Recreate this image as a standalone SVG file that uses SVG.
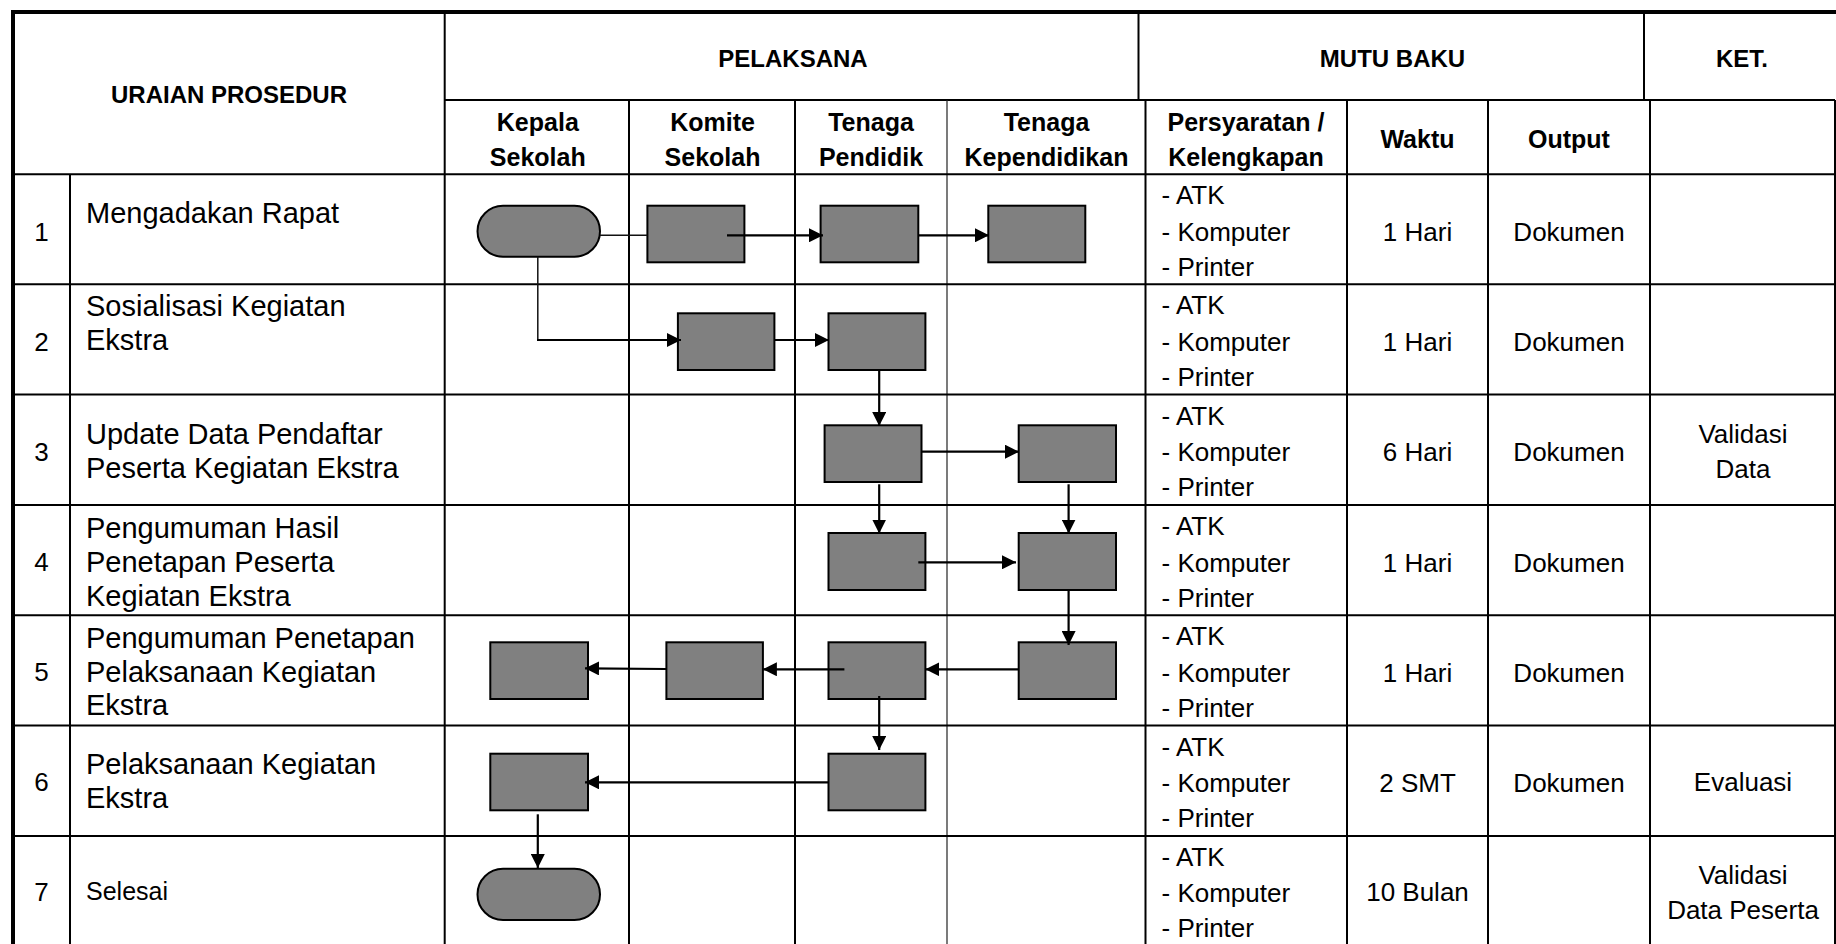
<svg xmlns="http://www.w3.org/2000/svg" width="1836" height="944" viewBox="0 0 1836 944">
<style>
.ln{stroke:#000;stroke-width:2;fill:none}
.thk{stroke:#000;stroke-width:4;fill:none}
.thin{stroke:#222;stroke-width:1.2;fill:none}
.hd{font-family:"Liberation Sans",Arial,sans-serif;font-weight:bold;font-size:25px;fill:#000;text-anchor:middle}
.hd0{font-family:"Liberation Sans",Arial,sans-serif;font-weight:bold;font-size:24px;fill:#000;text-anchor:middle}
.tx{font-family:"Liberation Sans",Arial,sans-serif;font-size:26px;fill:#000}
.c{text-anchor:middle}
.ur{font-family:"Liberation Sans",Arial,sans-serif;font-size:29px;fill:#000}
.box{fill:#808080;stroke:#000;stroke-width:2}
.ar{stroke:#000;stroke-width:2.2;fill:none;marker-end:url(#ah)}
.cn{stroke:#111;stroke-width:1.5;fill:none}
</style>
<defs>
<marker id="ah" markerUnits="userSpaceOnUse" markerWidth="15" markerHeight="14" refX="14" refY="7" orient="auto">
<path d="M0,0 L14,7 L0,14 z" fill="#000"/>
</marker>
</defs>
<rect width="1836" height="944" fill="#fff"/>
<g id="table">
<line class="thk" x1="11" y1="12" x2="1836" y2="12"/>
<line class="thk" x1="13" y1="10" x2="13" y2="946"/>
<line class="ln" x1="444.7" y1="12" x2="444.7" y2="946"/>
<line class="ln" x1="444.7" y1="100" x2="1835" y2="100"/>
<line class="ln" x1="1138.5" y1="12" x2="1138.5" y2="100"/>
<line class="ln" x1="1644" y1="12" x2="1644" y2="100"/>
<line class="ln" x1="70" y1="174.3" x2="70" y2="946"/>
<line class="ln" x1="629" y1="100" x2="629" y2="946"/>
<line class="ln" x1="795" y1="100" x2="795" y2="946"/>
<line class="thin" x1="947" y1="100" x2="947" y2="946"/>
<line class="ln" x1="1145.5" y1="100" x2="1145.5" y2="946"/>
<line class="ln" x1="1347" y1="100" x2="1347" y2="946"/>
<line class="ln" x1="1488" y1="100" x2="1488" y2="946"/>
<line class="ln" x1="1650" y1="100" x2="1650" y2="946"/>
<line class="ln" x1="1835" y1="100" x2="1835" y2="946"/>
<line class="ln" x1="13" y1="174.3" x2="1835" y2="174.3"/>
<line class="ln" x1="13" y1="284.3" x2="1835" y2="284.3"/>
<line class="ln" x1="13" y1="394.6" x2="1835" y2="394.6"/>
<line class="ln" x1="13" y1="505" x2="1835" y2="505"/>
<line class="ln" x1="13" y1="615.3" x2="1835" y2="615.3"/>
<line class="ln" x1="13" y1="725.6" x2="1835" y2="725.6"/>
<line class="ln" x1="13" y1="835.9" x2="1835" y2="835.9"/>
</g>
<g id="headers">
<text class="hd0" x="229" y="103.3">URAIAN PROSEDUR</text>
<text class="hd0" x="793" y="66.7">PELAKSANA</text>
<text class="hd0" x="1392.5" y="66.7">MUTU BAKU</text>
<text class="hd0" x="1742" y="66.7">KET.</text>
<text class="hd" x="537.8" y="131">Kepala</text>
<text class="hd" x="537.8" y="165.5">Sekolah</text>
<text class="hd" x="712.5" y="131">Komite</text>
<text class="hd" x="712.5" y="165.5">Sekolah</text>
<text class="hd" x="871" y="131">Tenaga</text>
<text class="hd" x="871" y="165.5">Pendidik</text>
<text class="hd" x="1046.5" y="131">Tenaga</text>
<text class="hd" x="1046.5" y="165.5">Kependidikan</text>
<text class="hd" x="1246" y="131">Persyaratan /</text>
<text class="hd" x="1246" y="165.5">Kelengkapan</text>
<text class="hd" x="1417.5" y="148.3">Waktu</text>
<text class="hd" x="1569" y="148.3">Output</text>
</g>
<g id="numbers" class="tx c">
<text x="41.5" y="240.5">1</text>
<text x="41.5" y="350.7">2</text>
<text x="41.5" y="460.8">3</text>
<text x="41.5" y="571">4</text>
<text x="41.5" y="681">5</text>
<text x="41.5" y="791">6</text>
<text x="41.5" y="901">7</text>
</g>
<g id="uraian" class="ur">
<text x="86" y="222.7">Mengadakan Rapat</text>
<text x="86" y="315.7">Sosialisasi Kegiatan</text>
<text x="86" y="350">Ekstra</text>
<text x="86" y="444">Update Data Pendaftar</text>
<text x="86" y="478.3">Peserta Kegiatan Ekstra</text>
<text x="86" y="537.7">Pengumuman Hasil</text>
<text x="86" y="571.7">Penetapan Peserta</text>
<text x="86" y="605.5">Kegiatan Ekstra</text>
<text x="86" y="647.7">Pengumuman Penetapan</text>
<text x="86" y="681.7">Pelaksanaan Kegiatan</text>
<text x="86" y="715">Ekstra</text>
<text x="86" y="774.3">Pelaksanaan Kegiatan</text>
<text x="86" y="808">Ekstra</text>
<text x="86" y="900" style="font-size:25px">Selesai</text>
</g>
<g id="persyaratan" class="tx">
<text x="1161.5" y="204.3">- ATK</text><text x="1161.5" y="240.8">- Komputer</text><text x="1161.5" y="275.8">- Printer</text>
<text x="1161.5" y="314.3">- ATK</text><text x="1161.5" y="350.8">- Komputer</text><text x="1161.5" y="385.8">- Printer</text>
<text x="1161.5" y="424.6">- ATK</text><text x="1161.5" y="461.1">- Komputer</text><text x="1161.5" y="496.1">- Printer</text>
<text x="1161.5" y="535">- ATK</text><text x="1161.5" y="571.5">- Komputer</text><text x="1161.5" y="606.5">- Printer</text>
<text x="1161.5" y="645.3">- ATK</text><text x="1161.5" y="681.8">- Komputer</text><text x="1161.5" y="716.8">- Printer</text>
<text x="1161.5" y="755.6">- ATK</text><text x="1161.5" y="792.1">- Komputer</text><text x="1161.5" y="827.1">- Printer</text>
<text x="1161.5" y="865.9">- ATK</text><text x="1161.5" y="902.4">- Komputer</text><text x="1161.5" y="937.4">- Printer</text>
</g>
<g id="waktu" class="tx c">
<text x="1417.5" y="240.8">1 Hari</text>
<text x="1417.5" y="350.8">1 Hari</text>
<text x="1417.5" y="461.1">6 Hari</text>
<text x="1417.5" y="571.5">1 Hari</text>
<text x="1417.5" y="681.8">1 Hari</text>
<text x="1417.5" y="792.1">2 SMT</text>
<text x="1417.5" y="901">10 Bulan</text>
</g>
<g id="output" class="tx c">
<text x="1569" y="240.8">Dokumen</text>
<text x="1569" y="350.8">Dokumen</text>
<text x="1569" y="461.1">Dokumen</text>
<text x="1569" y="571.5">Dokumen</text>
<text x="1569" y="681.8">Dokumen</text>
<text x="1569" y="792.1">Dokumen</text>
</g>
<g id="ket" class="tx c">
<text x="1743" y="443.3">Validasi</text>
<text x="1743" y="478.3">Data</text>
<text x="1743" y="791">Evaluasi</text>
<text x="1743" y="884">Validasi</text>
<text x="1743" y="919">Data Peserta</text>
</g>
<g id="start"><rect class="box" x="477.5" y="205.7" width="122.5" height="51" rx="25.5" ry="25.5"/></g>
<g id="n1-komite"><rect class="box" x="647.4" y="205.7" width="97" height="56.6"/></g>
<g id="n1-tp"><rect class="box" x="820.6" y="205.7" width="97.7" height="56.6"/></g>
<g id="n1-tk"><rect class="box" x="988.3" y="205.7" width="97" height="56.6"/></g>
<g id="n2-komite"><rect class="box" x="677.9" y="313.3" width="96.5" height="56.7"/></g>
<g id="n2-tp"><rect class="box" x="828.5" y="313.3" width="96.9" height="56.7"/></g>
<g id="n3-tp"><rect class="box" x="824.6" y="425.3" width="96.9" height="56.7"/></g>
<g id="n3-tk"><rect class="box" x="1018.7" y="425.3" width="97.3" height="56.7"/></g>
<g id="n4-tp"><rect class="box" x="828.5" y="533" width="96.9" height="57"/></g>
<g id="n4-tk"><rect class="box" x="1018.7" y="533" width="97.3" height="57"/></g>
<g id="n5-kepala"><rect class="box" x="490.3" y="642.3" width="97.7" height="56.7"/></g>
<g id="n5-komite"><rect class="box" x="666.4" y="642.3" width="96.5" height="56.7"/></g>
<g id="n5-tp"><rect class="box" x="828.5" y="642.3" width="96.9" height="56.7"/></g>
<g id="n5-tk"><rect class="box" x="1018.7" y="642.3" width="97.3" height="56.7"/></g>
<g id="n6-kepala"><rect class="box" x="490.3" y="753.7" width="97.7" height="56.6"/></g>
<g id="n6-tp"><rect class="box" x="828.5" y="753.7" width="96.9" height="56.6"/></g>
<g id="end"><rect class="box" x="477.5" y="868.7" width="122.5" height="51.3" rx="25.5" ry="25.5"/></g>
<g id="connectors">
<line class="cn" x1="600" y1="235.3" x2="647.4" y2="235.3"/>
<line class="ar" x1="727" y1="235.3" x2="823" y2="235.3"/>
<line class="ar" x1="918.3" y1="235.3" x2="989" y2="235.3"/>
<line class="cn" x1="537.8" y1="256.7" x2="537.8" y2="340"/>
<line class="ar" x1="537" y1="340" x2="681" y2="340"/>
<line class="ar" x1="774.4" y1="340" x2="829" y2="340"/>
<line class="ar" x1="879.2" y1="370" x2="879.2" y2="426"/>
<line class="ar" x1="921.5" y1="451.7" x2="1019" y2="451.7"/>
<line class="ar" x1="879.2" y1="484.3" x2="879.2" y2="533.5"/>
<line class="ar" x1="1068.6" y1="484.3" x2="1068.6" y2="533.5"/>
<line class="ar" x1="918.3" y1="562.3" x2="1016" y2="562.3"/>
<line class="ar" x1="1068.6" y1="590" x2="1068.6" y2="645"/>
<line class="ar" x1="1018.7" y1="669.3" x2="925.4" y2="669.3"/>
<line class="ar" x1="844.4" y1="669.3" x2="762.9" y2="669.3"/>
<line class="ar" x1="666.4" y1="669" x2="585" y2="668.3"/>
<line class="ar" x1="879.2" y1="696" x2="879.2" y2="750"/>
<line class="ar" x1="828.5" y1="782.3" x2="585" y2="782.3"/>
<line class="ar" x1="537.8" y1="814.3" x2="537.8" y2="868"/>
</g>
</svg>
